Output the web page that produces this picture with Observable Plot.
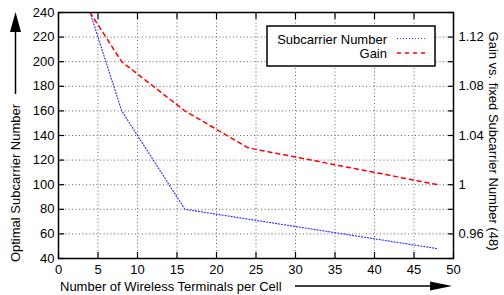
<!DOCTYPE html>
<html><head><meta charset="utf-8">
<script src="https://cdn.jsdelivr.net/npm/d3@7"></script>
<script src="https://cdn.jsdelivr.net/npm/@observablehq/plot@0.6"></script>
<style>body{margin:0;background:#fff;} svg{display:block;}</style>
</head><body><div id="chart"></div>
<script>
// Data
const terminals = [4, 8, 16, 24, 32, 40, 48];
const subcarriers = [240, 160, 80, 72, 64, 56, 48];
const gainTerminals = [4, 8, 16, 24, 32, 40, 48];
const gain = [1.14, 1.10, 1.06, 1.03, 1.02, 1.01, 1.00];
const xTicks = [0, 5, 10, 15, 20, 25, 30, 35, 40, 45, 50];
const yTicks = [40, 60, 80, 100, 120, 140, 160, 180, 200, 220, 240];
const gainLabelTicks = [0.96, 1.00, 1.04, 1.08, 1.12];
const gainMarkTicks = [0.94, 0.96, 0.98, 1.00, 1.02, 1.04, 1.06, 1.08, 1.10, 1.12, 1.14];
const gainDomain = [0.94, 1.14];
const yDomain = [40, 240];

// map gain onto the left y scale
const g2y = g => yDomain[0] + (g - gainDomain[0]) / (gainDomain[1] - gainDomain[0]) * (yDomain[1] - yDomain[0]);
const y2g = y => gainDomain[0] + (y - yDomain[0]) / (yDomain[1] - yDomain[0]) * (gainDomain[1] - gainDomain[0]);

const subData = terminals.map((t, i) => ({t, v: subcarriers[i]}));
const gainData = gainTerminals.map((t, i) => ({t, v: g2y(gain[i])}));

const fmtGain = y => { const g = Math.round(y2g(y) * 100) / 100; return g === 1 ? "1" : String(g); };

const chart = Plot.plot({
  width: 504, height: 295,
  marginLeft: 58, marginRight: 51, marginTop: 12, marginBottom: 37,
  style: {fontFamily: "'Liberation Sans', Arial, sans-serif", fontSize: "13px", color: "black", background: "white"},
  x: {domain: [0, 50]},
  y: {domain: yDomain},
  marks: [
    Plot.gridX(xTicks, {stroke: "#666", strokeOpacity: 1, strokeDasharray: "1,2.5"}),
    Plot.gridY(yTicks, {stroke: "#666", strokeOpacity: 1, strokeDasharray: "1,2.5"}),
    Plot.line(subData, {x: "t", y: "v", stroke: "#3333ff", strokeWidth: 1.2, strokeDasharray: "1,2", clip: true}),
    Plot.line(gainData, {x: "t", y: "v", stroke: "#ff0000", strokeWidth: 1.5, strokeDasharray: "4,4", clip: true}),
    // tick labels
    Plot.axisX(xTicks, {anchor: "bottom", tickSize: 0, tickPadding: 6, label: null, fill: "black"}),
    Plot.axisY(yTicks, {anchor: "left", tickSize: 0, tickPadding: 4, label: null, fill: "black"}),
    Plot.axisY(gainLabelTicks.map(g2y), {anchor: "right", tickSize: 0, tickPadding: 5, label: null, tickFormat: fmtGain, fill: "black"}),
    // inward tick marks, mirrored
    Plot.axisX(xTicks, {anchor: "bottom", tickSize: -6, text: null, label: null, strokeWidth: 1.2}),
    Plot.axisX(xTicks, {anchor: "top", tickSize: -6, text: null, label: null, strokeWidth: 1.2}),
    Plot.axisY(yTicks, {anchor: "left", tickSize: -6, text: null, label: null, strokeWidth: 1.2}),
    Plot.axisY(gainMarkTicks.map(g2y), {anchor: "right", tickSize: -6, text: null, label: null, strokeWidth: 1.2}),
    Plot.frame({stroke: "black", strokeWidth: 1.5})
  ]
});
document.getElementById("chart").appendChild(chart);

// annotations: axis titles with arrows, legend
const svg = d3.select(chart);
const font = "'Liberation Sans', Arial, sans-serif";
const g = svg.append("g").attr("font-family", font).attr("font-size", 13).attr("fill", "black");

g.append("text").attr("transform", "translate(20,183) rotate(-90)").attr("text-anchor", "middle").text("Optimal Subcarrier Number");
g.append("line").attr("x1", 15.5).attr("x2", 15.5).attr("y1", 94).attr("y2", 28).attr("stroke", "black").attr("stroke-width", 1.5);
g.append("polygon").attr("points", "10,32 21,32 15.5,12").attr("fill", "black");

g.append("text").attr("x", 60).attr("y", 291).attr("text-anchor", "start").text("Number of Wireless Terminals per Cell");
g.append("line").attr("x1", 295).attr("x2", 434).attr("y1", 286).attr("y2", 286).attr("stroke", "black").attr("stroke-width", 1.5);
g.append("polygon").attr("points", "430,281.5 430,290.5 452,286").attr("fill", "black");

g.append("text").attr("transform", "translate(489,141) rotate(90)").attr("text-anchor", "middle").text("Gain vs. fixed Subcarrier Number (48)");

const leg = svg.append("g").attr("font-family", font).attr("font-size", 13);
leg.append("rect").attr("x", 267).attr("y", 26).attr("width", 168).attr("height", 40).attr("fill", "white").attr("stroke", "black").attr("stroke-width", 1.5);
leg.append("text").attr("x", 387).attr("y", 43.5).attr("text-anchor", "end").text("Subcarrier Number");
leg.append("text").attr("x", 387).attr("y", 58).attr("text-anchor", "end").text("Gain");
leg.append("line").attr("x1", 397).attr("x2", 426).attr("y1", 38.5).attr("y2", 38.5).attr("stroke", "#3333ff").attr("stroke-width", 1.2).attr("stroke-dasharray", "1,2");
leg.append("line").attr("x1", 397).attr("x2", 426).attr("y1", 53).attr("y2", 53).attr("stroke", "#ff0000").attr("stroke-width", 1.5).attr("stroke-dasharray", "4,4");
</script>
</body></html>
